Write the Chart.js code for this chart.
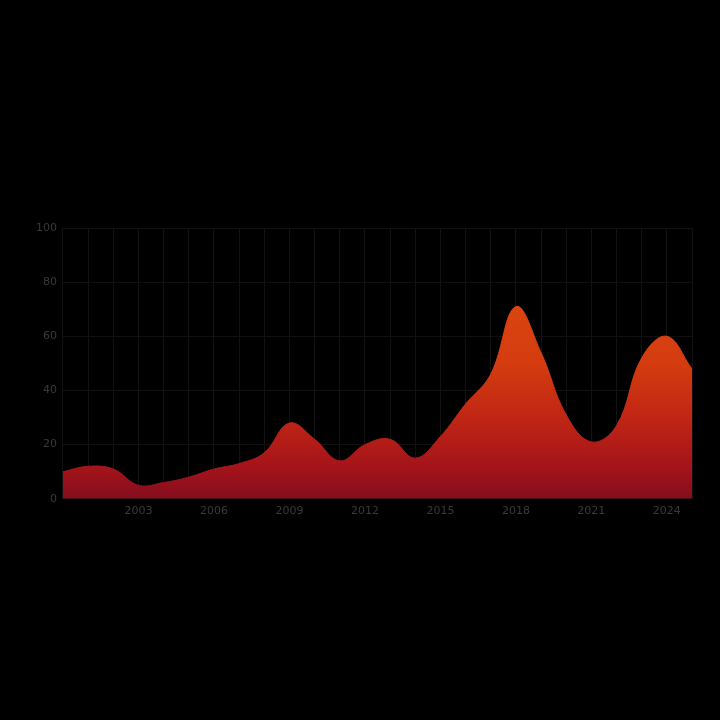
<!DOCTYPE html>
<html>
<head>
<meta charset="utf-8">
<style>
  html, body { margin: 0; padding: 0; background: #000; }
  #wrap { width: 720px; height: 720px; position: relative; }
</style>
<script src="https://cdn.jsdelivr.net/npm/chart.js@4"></script>
</head>
<body>
<div id="wrap"><canvas id="c" width="720" height="720"></canvas></div>
<script>
const years = ["2000","2001","2002","2003","2004","2005","2006","2007","2008","2009","2010","2011","2012","2013","2014","2015","2016","2017","2018","2019","2020","2021","2022","2023","2024","2025"];
const values = [10, 12, 11, 5, 6, 8, 11, 13, 17, 28, 22, 14, 20, 22, 15, 23, 35, 46, 71, 54, 31, 21, 27, 52, 60, 48];
const yTicks = [0, 20, 40, 60, 80, 100];

const ctx = document.getElementById('c').getContext('2d');

function areaGradient(context) {
  const chart = context.chart;
  const area = chart.chartArea;
  if (!area) return '#a8141a';
  const g = chart.ctx.createLinearGradient(0, area.bottom, 0, area.top);
  g.addColorStop(0, '#850d1e');
  g.addColorStop(0.12, '#a5141a');
  g.addColorStop(0.3, '#c02614');
  g.addColorStop(0.5, '#d43c0f');
  g.addColorStop(1, '#e0500f');
  return g;
}

new Chart(ctx, {
  type: 'line',
  data: {
    labels: years,
    datasets: [{
      data: values,
      fill: 'origin',
      backgroundColor: areaGradient,
      borderColor: areaGradient,
      borderWidth: 1,
      tension: 0.4,
      pointRadius: 0
    }]
  },
  options: {
    responsive: false,
    animation: false,
    layout: { padding: { top: 228, bottom: 196, left: 30, right: 28 } },
    plugins: { legend: { display: false }, tooltip: { enabled: false } },
    scales: {
      x: {
        grid: { color: '#121212', drawTicks: false },
        border: { display: false },
        ticks: {
          color: '#3a3a3a',
          font: { family: 'DejaVu Sans', size: 11 },
          autoSkip: false,
          maxRotation: 0,
          padding: 6,
          callback: function(val, idx) { return idx % 3 === 0 && idx > 0 ? this.getLabelForValue(val) : ''; }
        }
      },
      y: {
        min: 0, max: 100,
        afterBuildTicks: axis => { axis.ticks = yTicks.map(v => ({ value: v })); },
        grid: { color: '#101010', drawTicks: false },
        border: { display: false },
        ticks: { color: '#3a3a3a', font: { family: 'DejaVu Sans', size: 11 }, padding: 6 }
      }
    }
  }
});
</script>
</body>
</html>
